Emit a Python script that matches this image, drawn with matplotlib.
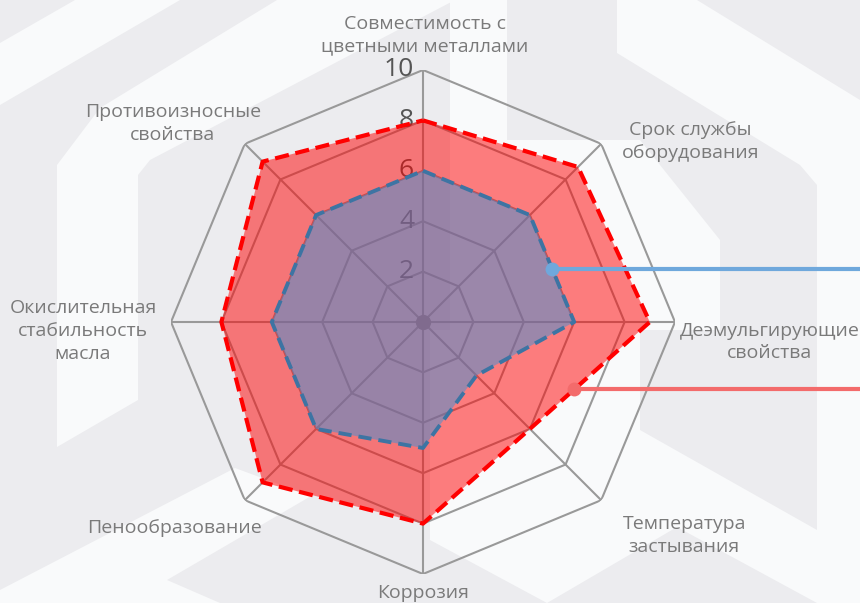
import numpy as np
import matplotlib
matplotlib.use("Agg")
import matplotlib.pyplot as plt
from matplotlib.patches import Polygon

plt.rcParams['font.family'] = ['Open Sans', 'DejaVu Sans']

# ---- data ----
categories = [
    "Совместимость с\nцветными металлами",
    "Срок службы\nоборудования",
    "Деэмульгирующие\nсвойства",
    "Температура\nзастывания",
    "Коррозия",
    "Пенообразование",
    "Окислительная\nстабильность\nмасла",
    "Противоизносные\nсвойства",
]
red_values = [8, 8.7, 9, 6, 8, 9, 8, 9]
blue_values = [6, 6, 6, 3, 5, 6, 6, 6]
r_ticks = [2, 4, 6, 8, 10]
r_max = 10

# label offsets (pixels) from the outer vertex of each axis
label_offsets = [(2, 35), (89, 2), (95, -20), (83, -35),
                 (0, -19), (-70, -28), (-88, -9), (-72, 20)]

W, H = 860, 603
fig = plt.figure(figsize=(W / 100, H / 100), dpi=100)
fig.patch.set_facecolor('#ececef')

# ---- faint background watermark ----
bg = fig.add_axes([0, 0, 1, 1], zorder=-5)
bg.set_xlim(0, W)
bg.set_ylim(H, 0)
bg.axis('off')
white = '#f9fafb'
shapes = [
    [(0, 43), (75, 0), (180, 0), (0, 105)],
    [(57, 447), (57, 165), (100, 108), (277, 0), (455, 0), (150, 160), (138, 175), (138, 400)],
    [(450, 0), (507, 0), (507, 330), (450, 330)],
    [(617, 0), (697, 0), (860, 100), (860, 603), (817, 603), (817, 185), (800, 165), (617, 53)],
    [(507, 140), (640, 140), (720, 240), (720, 330), (640, 330), (640, 430), (817, 530),
     (817, 603), (677, 527), (547, 603), (430, 540), (430, 330), (507, 330)],
    [(0, 590), (235, 468), (430, 540), (430, 603), (0, 603)],
]
for s in shapes:
    bg.add_patch(Polygon(s, closed=True, facecolor=white, edgecolor='none'))
bg.add_patch(Polygon([(167, 580), (330, 485), (430, 540), (430, 603), (220, 603)],
                     closed=True, facecolor='#ececef', edgecolor='none'))

# ---- radar ----
cx, cy, R = 423, 322, 252
ax = fig.add_axes([(cx - R) / W, (H - cy - R) / H, 2 * R / W, 2 * R / H], projection='polar')
ax.set_theta_offset(np.pi / 2)
ax.set_theta_direction(-1)
ax.set_ylim(0, r_max)
ax.patch.set_alpha(0)
ax.spines['polar'].set_visible(False)
ax.grid(False)
ax.set_xticks([])
ax.set_yticks([])

n = len(categories)
angles = np.linspace(0, 2 * np.pi, n, endpoint=False)
closed = np.append(angles, angles[0])

grid_c = '#999999'
for r in r_ticks:
    ax.plot(closed, [r] * (n + 1), color=grid_c, lw=1.5, zorder=1)
for a in angles:
    ax.plot([a, a], [0, r_max], color=grid_c, lw=1.5, zorder=1)
ax.plot([0], [0], 'o', color='#8c8c8c', ms=10, zorder=1)

for r in r_ticks:
    ax.annotate(str(r), xy=(0, r), xytext=(-9, 0), textcoords='offset pixels',
                ha='right', va='center', fontsize=19,
                color='#555555', zorder=2)

red_c = np.append(red_values, red_values[0])
blue_c = np.append(blue_values, blue_values[0])
ax.fill(closed, red_c, color=(1, 0, 0, 0.5), lw=0, zorder=3)
ax.plot(closed, red_c, color='#ff0000', lw=3, dashes=(3.4, 1.6), zorder=4)
ax.fill(closed, blue_c, color=(60 / 255, 146 / 255, 216 / 255, 0.5), lw=0, zorder=5)
ax.plot(closed, blue_c, color='#3d74a3', lw=2.8, dashes=(3.4, 1.8), zorder=6)

for a, lab, (dx, dy) in zip(angles, categories, label_offsets):
    ax.annotate(lab, xy=(a, r_max), xytext=(dx, dy), textcoords='offset pixels',
                ha='center', va='center', multialignment='center',
                fontsize=14, color='#7a7a7a', linespacing=1.35, zorder=7)

# ---- leader lines from polygon edges to the right edge ----
ax.apply_aspect()


def edge_point(values, i, frac):
    a0, a1 = angles[i], angles[(i + 1) % n]
    p0 = ax.transData.transform((a0, values[i]))
    p1 = ax.transData.transform((a1, values[(i + 1) % n]))
    return p0 + (p1 - p0) * frac


for values, i, frac, col in [(blue_values, 1, 0.5, '#6fa8dc'),
                             (red_values, 2, 0.63, '#f36b6b')]:
    px, py = edge_point(values, i, frac)
    fx, fy = px / W, py / H
    fig.add_artist(plt.Line2D([fx, 1.0], [fy, fy], transform=fig.transFigure,
                              color=col, lw=3, zorder=10))
    fig.add_artist(plt.Line2D([fx], [fy], transform=fig.transFigure, marker='o',
                              ms=9, color=col, zorder=10))

fig.savefig('out.png', dpi=100, facecolor=fig.get_facecolor())
